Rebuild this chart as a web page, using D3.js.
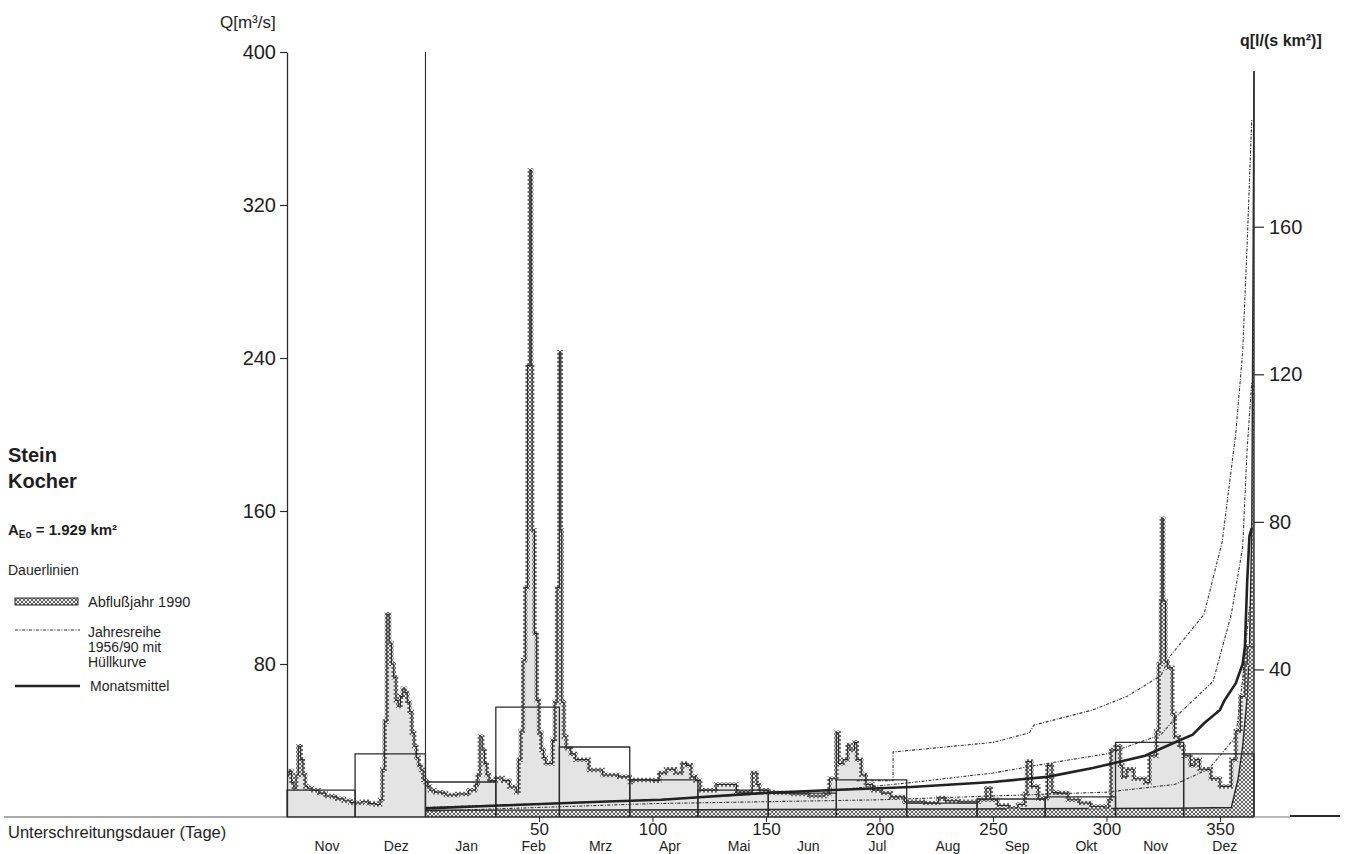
<!DOCTYPE html>
<html>
<head>
<meta charset="utf-8">
<script src="https://cdnjs.cloudflare.com/ajax/libs/d3/7.8.5/d3.min.js"></script>
<style>
  body { margin: 0; background: #fff; }
  svg { display: block; font-family: "Liberation Sans", Arial, sans-serif; }
</style>
</head>
<body>
<svg id="chart" width="1361" height="854"></svg>
<script>
// ---- Data -------------------------------------------------------------
// Month labels of the hydrograph (Nov 1989 .. Dez 1990)
const monthLabels = ["Nov","Dez","Jan","Feb","Mrz","Apr","Mai","Jun","Jul","Aug","Sep","Okt","Nov","Dez"];
// Monthly mean discharge Q [m³/s]
const monthlyMeanQ = [14.1, 33, 18.3, 57.5, 36.6, 19.4, 14.1, 12.5, 19.4, 7.3, 9.4, 10.5, 39, 33];

// Daily discharge [day since 1 Nov 1989, Q m³/s]
const dailyFlow = [
  [0,22],[1,24],[2,18],[3,15],[4,22],[5,37],[6,30],[7,22],[8,16],[9,15],[11,14],[14,12.5],[17,11],[20,10.5],[22,9.5],[25,8.5],[28,7.5],
  [30,7.3],[33,8],[36,7],[39,6.5],[41,9],[42,25],[43,50],[44,106],[45,91],[46,80],[47,73],[48,61],[49,58],[50,63],[51,67],[52,65],[53,60],[54,55],[55,44],[56,37],[57,31],[58,27],[59,24.6],[60,19.4],
  [61,18.3],[62,16],[63,14],[65,13],[68,12.5],[70,11.5],[75,12],[80,14],[83,17],[84,22],[85,42],[86,35],[87,28],[88,22],[89,19],
  [92,20.4],[95,19],[98,15.7],[101,13],[102,30],[103,45],[104,82],[105,120],[106,236],[107,338],[107.6,236],[108,150],[109,96],[110,61],[111,44],[112,35],[113,31],[114,28],[116,28],[117,40],[118,60],[119,120],[120,243],[120.6,150],[121,60],[122,42],
  [123,36],[125,33],[127,30],[133,24.6],[139,22],[146,21],[151,18.3],
  [152,19.4],[161,19],[164,23],[167,25],[171,23],[174,28],[176,27],[178,21],[180,19],
  [182,14],[189,17],[195,17],[198,13],[205,23],[207,17],[208,14],[212,13],
  [215,12.5],[222,12],[230,11],[237,12],[239,20],
  [242,44],[243,28],[245,30],[247,37.6],[248,35],[250,39],[251,30],[253,22],[255,17],[258,14],[262,12.5],[266,10.5],[272,8],
  [281,7.3],[287,10],[290,8.5],[296,8],[303,8],
  [305,9],[308,15],[310,9],[313,6],[318,4.7],[322,6.5],[325,12],[326,29],[328,16],[331,9.5],[334,10],
  [335,27],[337,12.8],[340,12.5],[344,9],[349,7.3],[354,5.5],[360,4.7],[362,9],[363,35],
  [365,37],[367,27],[368,21],[370,25],[373,20],[378,18],[380,32],[383,45],[384,80],[385,113],[385.4,156],[386,113],[387,81],[388,78],[390,54],[391,42],[393,37],
  [395,32],[398,27],[400,30],[402,25],[407,20],[411,16],[415,16],[416,30],[418,45],[420,63],[422,80],[423,89],[426,89]
];

// Duration curves [days of non-exceedance, Q m³/s]
const durationMean = [[0,4.5],[33,6],[77,8],[104,9],[148,12.5],[177,14],[214,15.7],[250,18.3],[274,21],[294,25.6],[317,32],[332,40],[338,43],[343,49],[350,56],[352,61],[357,70],[360,80],[361,89],[362,123],[363,147],[364,151]];
const durationUpper = [[190,19],[206,19],[206,34],[250,39],[266,44],[268,48],[294,56],[309,63],[324,74],[328,84],[343,106],[351,144],[357,201],[360,243],[362,300],[364,365]];
const durationSeries = [[0,5],[100,9],[180,14],[214,18],[250,23],[274,28],[300,33],[324,43],[332,54],[347,71],[355,106],[360,141],[362,193],[364,227]];
const durationLower = [[0,3],[100,7],[200,9],[300,13],[330,17],[345,25],[357,42],[360,72],[363,110]];
const duration1990 = [[0,3.5],[120,3.8],[240,4.2],[330,4.6],[355,5],[358,20],[360,37],[362,63],[363,89],[364,150],[365,390]];

const durationTicks = [50,100,150,200,250,300,350];
const qTicksLeft = [80,160,240,320,400];
const qTicksRight = [40,80,120,160];
const catchmentKm2 = 1929;

// ---- Layout -----------------------------------------------------------
const svg = d3.select("#chart");
const X0 = 287, X1 = 1254, Y0 = 817, YT = 52;

const start = new Date(Date.UTC(1989, 10, 1));
const end = new Date(Date.UTC(1991, 0, 1));
const xTime = d3.scaleUtc().domain([start, end]).range([X0, X1]);
const totalDays = (end - start) / 864e5;
const xDay = d3.scaleLinear().domain([0, totalDays]).range([X0, X1]);
const xDur = d3.scaleLinear().domain([0, 365]).range([xTime(new Date(Date.UTC(1990, 0, 1))), X1]);
const yQ = d3.scaleLinear().domain([0, 400]).range([Y0, YT]);
const yq = d3.scaleLinear().domain([0, 400 * 1000 / catchmentKm2]).range([Y0, YT]);

// ---- Patterns ---------------------------------------------------------
const defs = svg.append("defs");
const hp = defs.append("pattern").attr("id", "xhatch")
  .attr("width", 4).attr("height", 4).attr("patternUnits", "userSpaceOnUse");
hp.append("rect").attr("width", 4).attr("height", 4).attr("fill", "#f0f0f0");
hp.append("path").attr("d", "M0,0L4,4M4,0L0,4").attr("stroke", "#3a3a3a").attr("stroke-width", 0.8);

const ink = "#2b2b2b";

// ---- Hydrograph -------------------------------------------------------
const flowArea = d3.area().x(d => xDay(d[0])).y0(Y0).y1(d => yQ(d[1])).curve(d3.curveStepAfter);
const flowLine = d3.line().x(d => xDay(d[0])).y(d => yQ(d[1])).curve(d3.curveStepAfter);

svg.append("path").datum(dailyFlow).attr("d", flowArea).attr("fill", "#e4e4e4");

// 1990 duration curve as hatched band along the bottom
const durArea = d3.area().x(d => xDur(d[0])).y0(Y0).y1(d => yQ(d[1])).curve(d3.curveLinear);
const durLine = d3.line().x(d => xDur(d[0])).y(d => yQ(d[1])).curve(d3.curveLinear);
svg.append("path").datum(duration1990).attr("d", durArea).attr("fill", "url(#xhatch)");
svg.append("path").datum(duration1990).attr("d", durLine).attr("fill", "none").attr("stroke", ink).attr("stroke-width", 1.4);

// textured outline of the hydrograph
svg.append("path").datum(dailyFlow).attr("d", flowLine)
  .attr("fill", "none").attr("stroke", "url(#xhatch)").attr("stroke-width", 4.5);
svg.append("path").datum(dailyFlow).attr("d", flowLine)
  .attr("fill", "none").attr("stroke", ink).attr("stroke-width", 1.1);

// ---- Monthly means ----------------------------------------------------
const months = d3.utcMonth.range(start, end);
svg.append("g").selectAll("path").data(months).join("path")
  .attr("d", (m, i) => {
    const a = xTime(m), b = xTime(d3.utcMonth.offset(m, 1)), y = yQ(monthlyMeanQ[i]);
    return `M${a},${Y0}V${y}H${b}V${Y0}`;
  })
  .attr("fill", "none").attr("stroke", ink).attr("stroke-width", 1.3);

// ---- Duration curves --------------------------------------------------
[durationUpper, durationSeries, durationLower].forEach(c => {
  svg.append("path").datum(c).attr("d", durLine)
    .attr("fill", "none").attr("stroke", "#333").attr("stroke-width", 1.1)
    .attr("stroke-dasharray", "3,1.5,1,1.5");
});
svg.append("path").datum(durationMean).attr("d", durLine)
  .attr("fill", "none").attr("stroke", "#222").attr("stroke-width", 2.6);

// day 0 frame line of the duration chart
svg.append("line").attr("x1", xDur(0)).attr("x2", xDur(0)).attr("y1", Y0).attr("y2", yQ(400))
  .attr("stroke", ink).attr("stroke-width", 1.1);

// ---- Axes -------------------------------------------------------------
const gL = svg.append("g").attr("transform", `translate(${X0},0)`)
  .call(d3.axisLeft(yQ).tickValues(qTicksLeft).tickSize(7).tickSizeOuter(0).tickPadding(4));
gL.select(".domain").attr("stroke", ink).attr("stroke-width", 1.3);
gL.selectAll(".tick line").attr("stroke", ink).attr("stroke-width", 1.2);
gL.selectAll(".tick text").attr("font-size", 20).attr("fill", "#1e1e1e").attr("font-family", "Liberation Sans, Arial");

const gR = svg.append("g").attr("transform", `translate(${X1},0)`)
  .call(d3.axisRight(yq).tickValues(qTicksRight).tickSize(10).tickSizeOuter(0).tickPadding(5));
gR.select(".domain").remove();
gR.selectAll(".tick line").attr("stroke", ink).attr("stroke-width", 1.2);
gR.selectAll(".tick text").attr("font-size", 20).attr("fill", "#1e1e1e").attr("font-family", "Liberation Sans, Arial");
svg.append("line").attr("x1", X1).attr("x2", X1).attr("y1", Y0).attr("y2", yQ(390))
  .attr("stroke", ink).attr("stroke-width", 1.4);

// baseline
svg.append("line").attr("x1", 4).attr("x2", X0).attr("y1", Y0).attr("y2", Y0).attr("stroke", "#555").attr("stroke-width", 1);
svg.append("line").attr("x1", X0).attr("x2", X1).attr("y1", Y0).attr("y2", Y0).attr("stroke", ink).attr("stroke-width", 1.4);
svg.append("line").attr("x1", X1).attr("x2", 1290).attr("y1", Y0).attr("y2", Y0).attr("stroke", "#777").attr("stroke-width", 1);
svg.append("line").attr("x1", 1290).attr("x2", 1340).attr("y1", Y0 - 1).attr("y2", Y0 - 1).attr("stroke", ink).attr("stroke-width", 1.8);

// duration axis
const gB = svg.append("g").attr("transform", `translate(0,${Y0})`)
  .call(d3.axisBottom(xDur).tickValues(durationTicks).tickSize(5).tickSizeOuter(0).tickPadding(1));
gB.select(".domain").remove();
gB.selectAll(".tick line").attr("stroke", ink);
gB.selectAll(".tick text").attr("font-size", 17).attr("fill", "#1e1e1e").attr("font-family", "Liberation Sans, Arial");

// month labels
svg.append("g").selectAll("text").data(months).join("text")
  .attr("x", (m, i) => Math.max(X0 + 23, (xTime(m) + xTime(d3.utcMonth.offset(m, 1))) / 2 + 6))
  .attr("y", 851)
  .attr("text-anchor", "middle").attr("font-size", 14).attr("fill", "#1e1e1e")
  .text((m, i) => monthLabels[i]);

// ---- Titles and legend ------------------------------------------------
const txt = (x, y, s, size, weight, anchor) => svg.append("text")
  .attr("x", x).attr("y", y).attr("font-size", size).attr("font-weight", weight || "normal")
  .attr("text-anchor", anchor || "start").attr("fill", "#1e1e1e").text(s);

txt(220, 28, "Q[m³/s]", 17);
txt(1240, 46, "q[l/(s km²)]", 16, "bold");
txt(8, 838, "Unterschreitungsdauer (Tage)", 16.5);

txt(8, 462, "Stein", 20, "bold");
txt(8, 488, "Kocher", 20, "bold");

const ae = svg.append("text").attr("x", 8).attr("y", 535).attr("font-size", 15).attr("font-weight", "bold").attr("fill", "#1e1e1e");
ae.append("tspan").text("A");
ae.append("tspan").attr("font-size", 10).attr("dy", 3).text("Eo");
ae.append("tspan").attr("dy", -3).text(" = 1.929 km²");

txt(8, 575, "Dauerlinien", 14);
svg.append("rect").attr("x", 15).attr("y", 598).attr("width", 63).attr("height", 7)
  .attr("fill", "url(#xhatch)").attr("stroke", ink).attr("stroke-width", 1);
txt(88, 607, "Abflußjahr 1990", 14.5);

svg.append("line").attr("x1", 15).attr("x2", 80).attr("y1", 630).attr("y2", 630)
  .attr("stroke", "#333").attr("stroke-width", 1.1).attr("stroke-dasharray", "3,1.5,1,1.5");
txt(88, 637, "Jahresreihe", 14);
txt(88, 652, "1956/90 mit", 14);
txt(88, 667, "Hüllkurve", 14);

svg.append("line").attr("x1", 15).attr("x2", 80).attr("y1", 686).attr("y2", 686)
  .attr("stroke", "#222").attr("stroke-width", 2.6);
txt(90, 691, "Monatsmittel", 14);
</script>
</body>
</html>
